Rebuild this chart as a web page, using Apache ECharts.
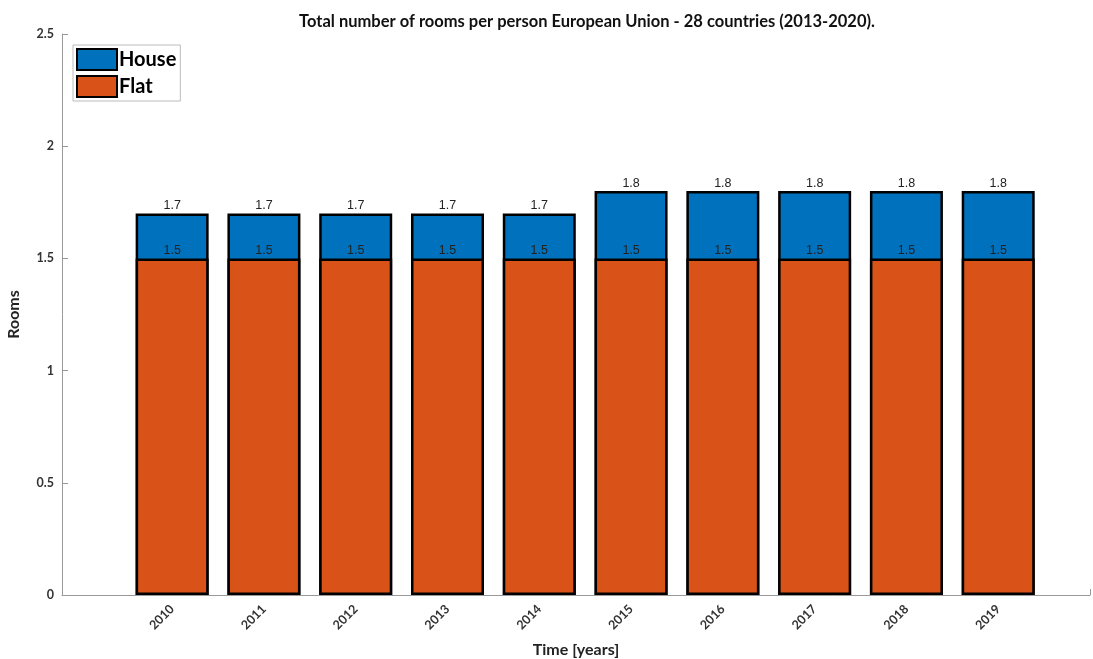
<!DOCTYPE html>
<html>
<head>
<meta charset="utf-8">
<script src="https://cdn.jsdelivr.net/npm/echarts@6/dist/echarts.min.js"></script>
<style>html,body{margin:0;padding:0;background:#fff;}#c{width:1093px;height:659px;}</style>
</head>
<body>
<div id="c"></div>
<script>
const years = [2010, 2011, 2012, 2013, 2014, 2015, 2016, 2017, 2018, 2019];
const houseValues = [1.7, 1.7, 1.7, 1.7, 1.7, 1.8, 1.8, 1.8, 1.8, 1.8];
const flatValues = [1.5, 1.5, 1.5, 1.5, 1.5, 1.5, 1.5, 1.5, 1.5, 1.5];
const xTicks = [2010, 2011, 2012, 2013, 2014, 2015, 2016, 2017, 2018, 2019, 2020];

const chart = echarts.init(document.getElementById('c'));
const tickFont = {color: '#333', fontFamily: 'Lato', fontWeight: 'bold', fontSize: 12.5};
const labelStyle = {show: true, position: 'top', distance: 1, color: '#222', fontFamily: 'Liberation Sans', fontSize: 12.5};

chart.setOption({
  animation: false,
  title: {
    text: 'Total number of rooms per person European Union - 28 countries (2013-2020).',
    left: 582, top: 8, textAlign: 'center',
    textStyle: {fontFamily: 'Lato', fontWeight: 'bold', fontSize: 16.5, color: '#111'}
  },
  legend: {
    orient: 'vertical', left: 73, top: 45,
    icon: 'rect',
    itemWidth: 40, itemHeight: 21, itemGap: 4,
    padding: [3, 4, 3, 3],
    borderColor: '#bbb', borderWidth: 1, backgroundColor: '#fff',
    textStyle: {fontFamily: 'Lato', fontWeight: 'bold', fontSize: 20, color: '#000', padding: [0, 0, 0, -3]},
    data: ['House', 'Flat']
  },
  grid: {left: 62, right: 3, top: 34, bottom: 64, outerBoundsMode: 'none'},
  xAxis: {
    type: 'value', min: 2008.8, max: 2020,
    name: 'Time [years]', nameLocation: 'middle', nameGap: 47,
    nameTextStyle: {fontFamily: 'Lato', fontWeight: 'bold', fontSize: 16, color: '#222'},
    axisLine: {show: true, lineStyle: {color: '#999'}},
    axisTick: {show: true, inside: true, length: 6, customValues: xTicks, lineStyle: {color: '#999'}},
    axisLabel: {customValues: years, rotate: 45, margin: 12, formatter: v => String(v), ...tickFont},
    splitLine: {show: false}
  },
  yAxis: {
    type: 'value', min: 0, max: 2.5, interval: 0.5,
    name: 'Rooms', nameLocation: 'middle', nameGap: 40,
    nameTextStyle: {fontFamily: 'Lato', fontWeight: 'bold', fontSize: 16, color: '#222'},
    axisLine: {show: true, lineStyle: {color: '#999'}},
    axisTick: {show: true, inside: true, length: 6, lineStyle: {color: '#999'}},
    axisLabel: {margin: 8, ...tickFont},
    splitLine: {show: false}
  },
  series: [
    {
      name: 'House', type: 'bar', barWidth: 73, barGap: '-100%',
      data: years.map((y, i) => [y, houseValues[i]]),
      itemStyle: {color: '#0072BD', borderColor: '#000', borderWidth: 2.5},
      label: labelStyle
    },
    {
      name: 'Flat', type: 'bar', barWidth: 73, barGap: '-100%',
      data: years.map((y, i) => [y, flatValues[i]]),
      itemStyle: {color: '#D95319', borderColor: '#000', borderWidth: 2.5},
      label: labelStyle
    }
  ]
});
</script>
</body>
</html>
